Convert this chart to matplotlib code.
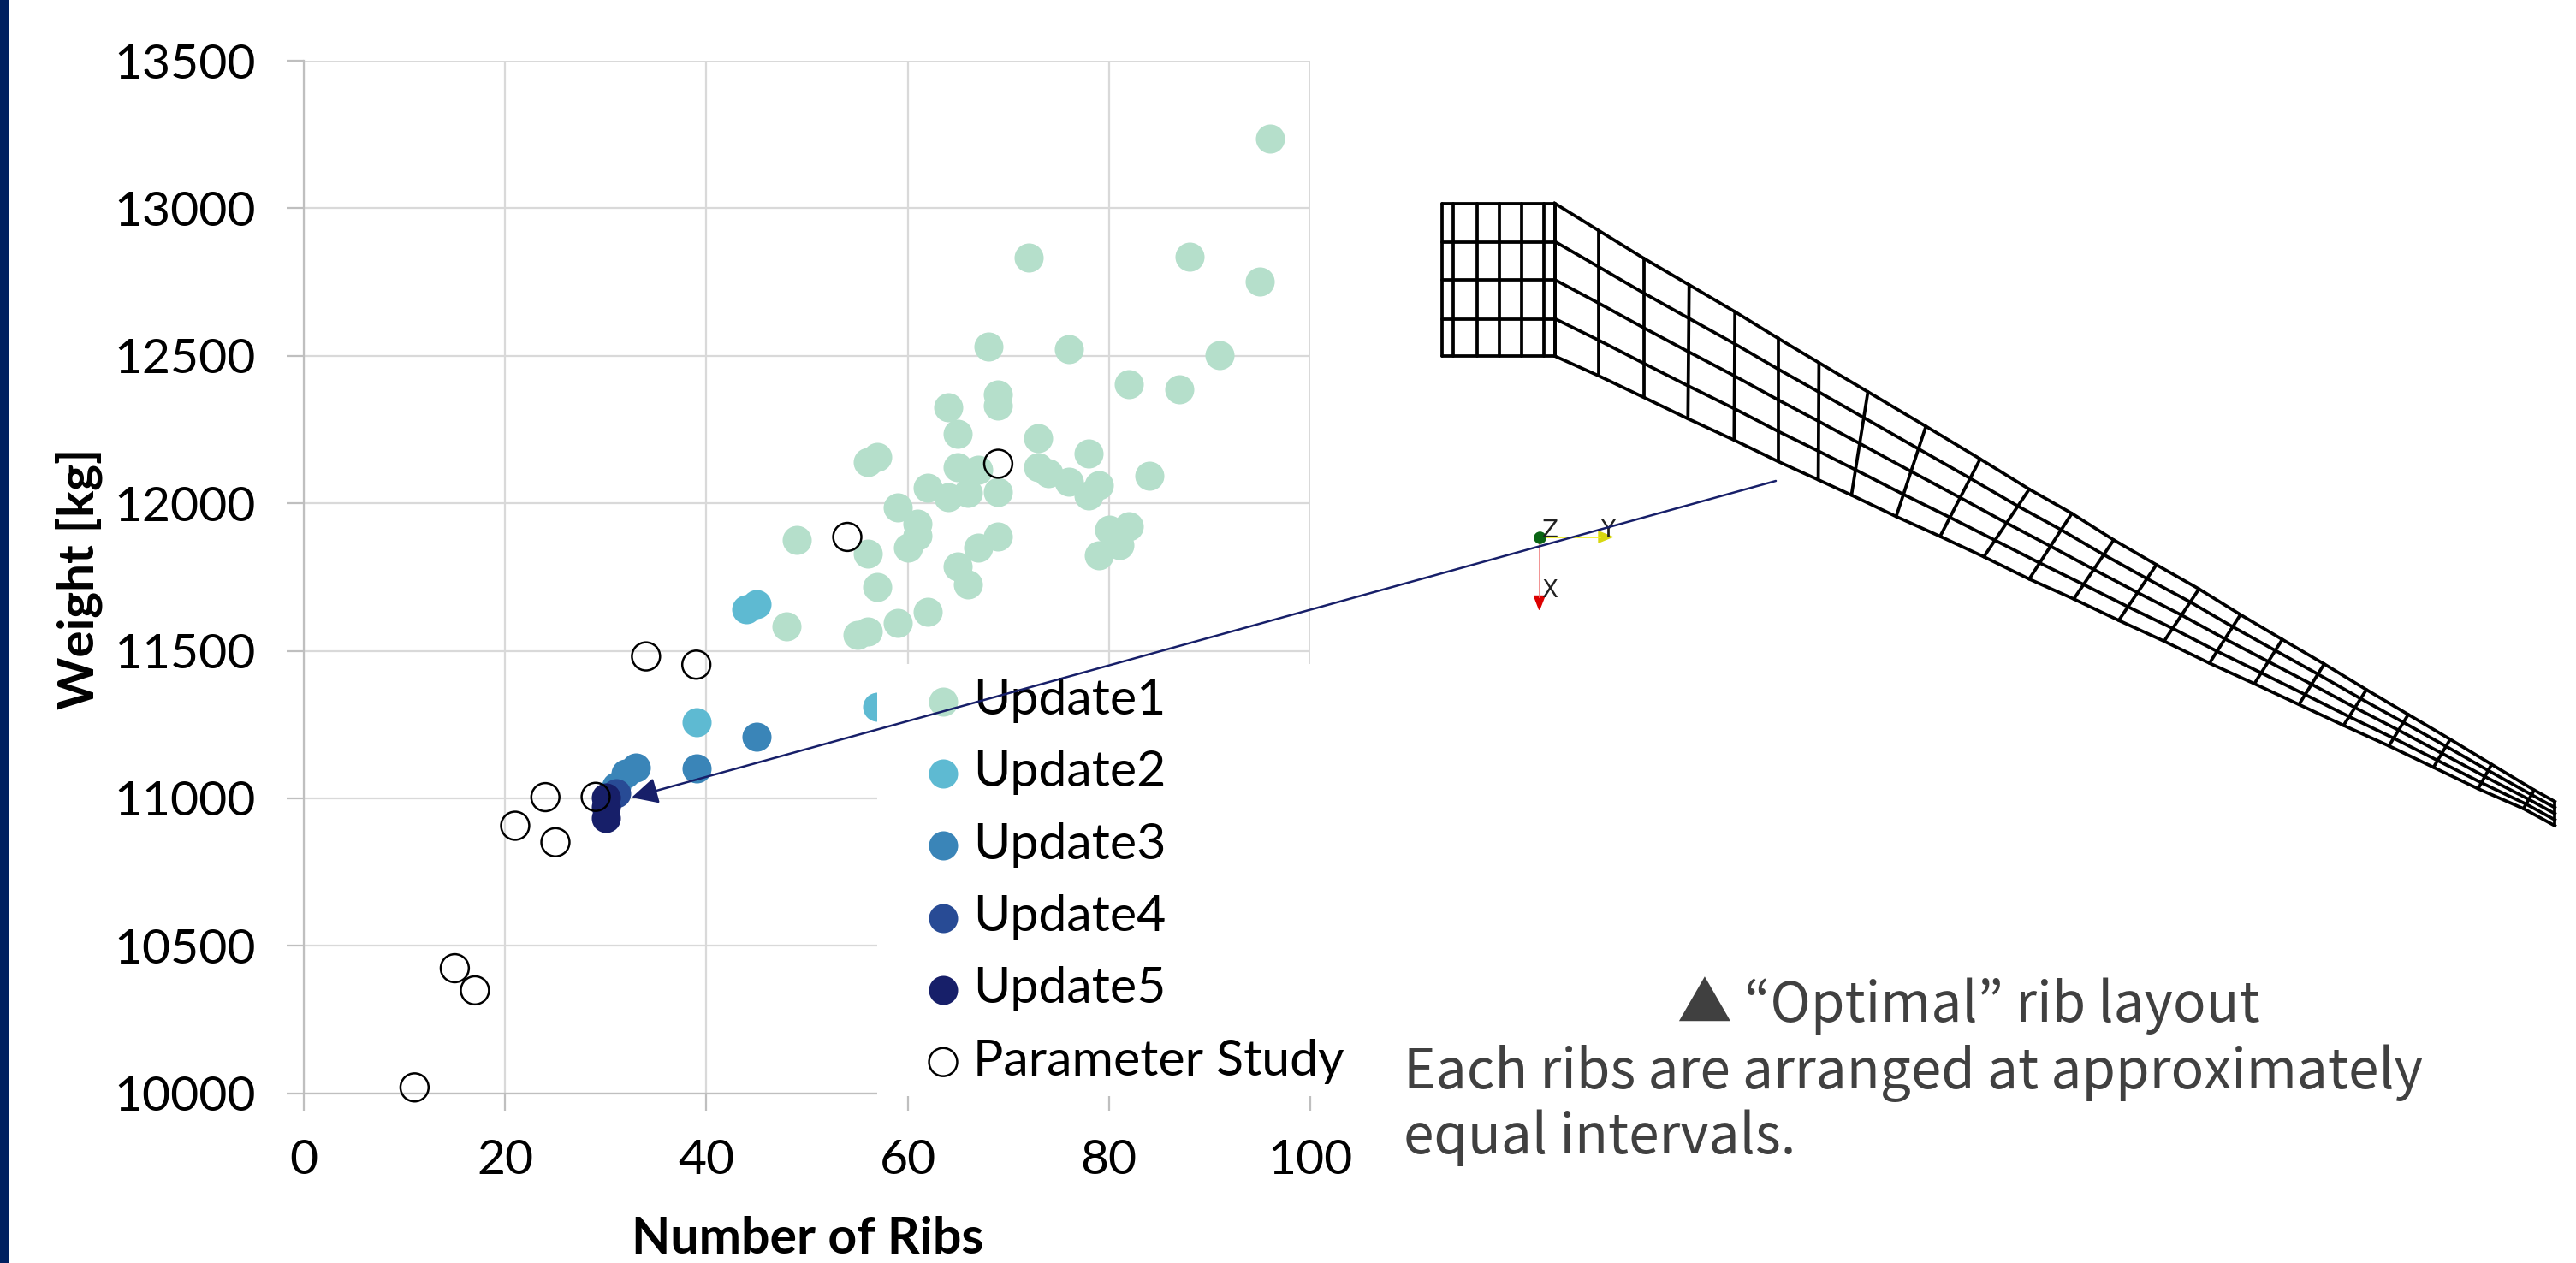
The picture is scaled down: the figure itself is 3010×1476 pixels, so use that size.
import matplotlib
matplotlib.use("Agg")
import matplotlib.pyplot as plt
import numpy as np

# chart data
update1_x = [96, 72, 88, 95, 68, 76, 91, 82, 87, 69, 69, 64, 65, 73, 78, 57, 56, 65, 67, 73, 74, 76, 79, 84, 78,
             62, 64, 66, 69, 59, 61, 61, 60, 56, 49, 69, 67, 65, 66, 57, 80, 82, 81, 79, 62, 59, 56, 55, 48]
update1_y = [13236, 12834, 12836, 12753, 12531, 12522, 12501, 12403, 12385, 12369, 12330, 12325, 12235, 12222,
             12169, 12156, 12140, 12122, 12114, 12123, 12101, 12073, 12062, 12093, 12027, 12053, 12020, 12034,
             12038, 11985, 11930, 11891, 11849, 11828, 11875, 11888, 11849, 11787, 11726, 11715, 11911, 11923,
             11859, 11823, 11631, 11594, 11565, 11553, 11583]
update2_x = [45, 44, 39, 57]
update2_y = [11657, 11641, 11257, 11311]
update3_x = [39, 45, 33, 32, 31]
update3_y = [11101, 11209, 11103, 11085, 11040]
update4_x = [31]
update4_y = [11016]
update5_x = [30, 30, 30]
update5_y = [11002, 10970, 10933]
study_x = [34, 39, 24, 29, 21, 25, 15, 17, 11, 54, 69]
study_y = [11481, 11453, 11004, 11005, 10907, 10851, 10424, 10349, 10020, 11886, 12134]

x_ticks = [0, 20, 40, 60, 80, 100]
y_ticks = [10000, 10500, 11000, 11500, 12000, 12500, 13000, 13500]

series_colors = ["#B5DFCB", "#5EBAD2", "#3A85B8", "#284B95", "#171F69"]
series_names = ["Update1", "Update2", "Update3", "Update4", "Update5", "Parameter Study"]

# wing mesh, picture pixels
root_x = [1685, 1698, 1726, 1752, 1778, 1804, 1816.5]
root_y = [237.5, 283, 327, 373, 416]
top_x = [1816.5, 1868.3, 1920.5, 1973.7, 2027.2, 2077.7, 2125.4, 2182.6, 2250.4, 2313.8, 2371.1, 2420.9, 2469.8,
         2519.7, 2569.5, 2617.9, 2666.8, 2715.8, 2765.1, 2814, 2863, 2911.4, 2961.2, 2985.2]
top_y = [237.5, 269.6, 301.8, 332.9, 364.3, 395.4, 423.9, 457.9, 498.2, 536.4, 571.7, 600, 631, 660, 688.3, 718.3,
         747.3, 776, 806, 835, 864, 893.3, 923.3, 936.7]
bot_x = [1816.5, 1868.3, 1920.5, 1972.3, 2026.3, 2077.7, 2124.6, 2163.4, 2215.6, 2267, 2318.1, 2371.1, 2423.2,
         2475.7, 2528.7, 2581.7, 2634.2, 2686.3, 2738.4, 2791.4, 2843.5, 2895.6, 2948.6, 2985.2]
bot_y = [416, 439.3, 464.3, 489.3, 514.3, 539.3, 560.7, 578.6, 603.6, 626.8, 650.7, 676.7, 700, 725, 749.3, 775,
         799, 823.3, 847.7, 871.7, 896.7, 921.7, 945, 965]
span_fracs = [0.25, 0.5, 0.755]

W, H = 3010, 1476
plt.rcParams["font.family"] = ["Lato", "DejaVu Sans"]

fig = plt.figure(figsize=(W / 100, H / 100), dpi=100, facecolor="white")

ax = fig.add_axes([355 / W, 1 - 1277.7 / H, 1176 / W, 1206.7 / H])
over = fig.add_axes([0, 0, 1, 1], zorder=5)
over.set_xlim(0, W)
over.set_ylim(H, 0)
over.axis("off")
over.patch.set_alpha(0)

ax.set_xlim(0, 100)
ax.set_ylim(10000, 13500)
ax.set_xticks(x_ticks)
ax.set_yticks(y_ticks)
ax.set_axisbelow(True)
ax.grid(True, color="#D9D9D9", lw=1.6)
ax.tick_params(axis="both", length=14.4, width=1.6, color="#BFBFBF", labelsize=41)
ax.tick_params(axis="x", pad=24)
ax.tick_params(axis="y", pad=26)
for s in ["top", "right"]:
    ax.spines[s].set_visible(False)
for s in ["left", "bottom"]:
    ax.spines[s].set_color("#BFBFBF")
    ax.spines[s].set_linewidth(1.6)

ax.set_xlabel("Number of Ribs", fontsize=42.5, fontweight="bold", va="baseline")
ax.xaxis.set_label_coords(944, 1465, transform=over.transData)
ax.set_ylabel("Weight [kg]", fontsize=42, fontweight="bold", va="baseline")
ax.yaxis.set_label_coords(109, 676, transform=over.transData)

xs = [update1_x, update2_x, update3_x, update4_x, update5_x]
ys = [update1_y, update2_y, update3_y, update4_y, update5_y]
handles = []
for i in range(5):
    h = ax.scatter(xs[i], ys[i], s=600, color=series_colors[i], linewidths=0, zorder=3, clip_on=False,
                   label=series_names[i])
    handles.append(h)
h = ax.scatter(study_x, study_y, s=560, facecolors="none", edgecolors="black", linewidths=1.8, zorder=3.5,
               clip_on=False, label=series_names[5])
handles.append(h)

# white legend area hides part of the plot
ax.add_patch(plt.Rectangle((1025, 776), 600, 505, transform=over.transData, facecolor="white", edgecolor="none",
                           zorder=4, clip_on=False))
leg = ax.legend(handles=handles, loc="upper left", bbox_to_anchor=(1078.4, 792), bbox_transform=over.transData,
                frameon=False, fontsize=42.5, borderpad=0, borderaxespad=0, handlelength=0.8, handletextpad=0.2,
                labelspacing=0.531, scatterpoints=1)
leg.set_zorder(6)

# left band
over.add_patch(plt.Rectangle((0, 0), 10, H, facecolor="#002060", edgecolor="none"))

# wing mesh
top_x = np.array(top_x)
top_y = np.array(top_y)
bot_x = np.array(bot_x)
bot_y = np.array(bot_y)
mesh_lw = 2.7
for x in root_x:
    over.plot([x, x], [root_y[0], root_y[-1]], color="black", lw=mesh_lw, solid_capstyle="round")
for y in root_y:
    over.plot([root_x[0], root_x[-1]], [y, y], color="black", lw=mesh_lw, solid_capstyle="round")
for i in range(len(top_x)):
    over.plot([top_x[i], bot_x[i]], [top_y[i], bot_y[i]], color="black", lw=mesh_lw, solid_capstyle="round")
over.plot(top_x, top_y, color="black", lw=mesh_lw)
over.plot(bot_x, bot_y, color="black", lw=mesh_lw)
for f in span_fracs:
    over.plot(top_x + (bot_x - top_x) * f, top_y + (bot_y - top_y) * f, color="black", lw=mesh_lw)

# coordinate triad
over.plot([1798.7, 1870], [627.5, 627.5], color="#F2F21E", lw=1.2)
over.plot([1798.7, 1798.7], [627.5, 698], color="#F08080", lw=1.2)
over.fill([1868, 1884, 1868], [621, 627.5, 634], color="#D8D810")
over.fill([1792.5, 1805, 1798.7], [696.5, 696.5, 712.5], color="#DD0000")
over.scatter([1798.7], [627.5], s=110, color="#0A6414", linewidths=0, zorder=3)
over.text(1811.5, 628, "Z", fontsize=20, color="#222222", ha="center", va="baseline", family="DejaVu Sans")
over.text(1878.5, 628, "Y", fontsize=20, color="#222222", ha="center", va="baseline", family="DejaVu Sans")
over.text(1811, 698, "X", fontsize=20, color="#222222", ha="center", va="baseline", family="DejaVu Sans")

# arrow from mesh to optimum
over.annotate("", xy=(738, 932), xytext=(2075, 562), zorder=7,
              arrowprops=dict(arrowstyle="-|>,head_length=18.7,head_width=9.4", mutation_scale=1, color="#171F69",
                              lw=1.8, shrinkA=0, shrinkB=0))

# caption
note_font = ["Noto Sans CJK JP", "DejaVu Sans"]
over.text(1960, 1194, "▲ “Optimal” rib layout", fontsize=46, color="#404040", family=note_font, va="baseline")
over.text(1640, 1272, "Each ribs are arranged at approximately", fontsize=46, color="#404040", family=note_font,
          va="baseline")
over.text(1640, 1348, "equal intervals.", fontsize=46, color="#404040", family=note_font, va="baseline")

fig.savefig("out.png", dpi=100, facecolor="white")
